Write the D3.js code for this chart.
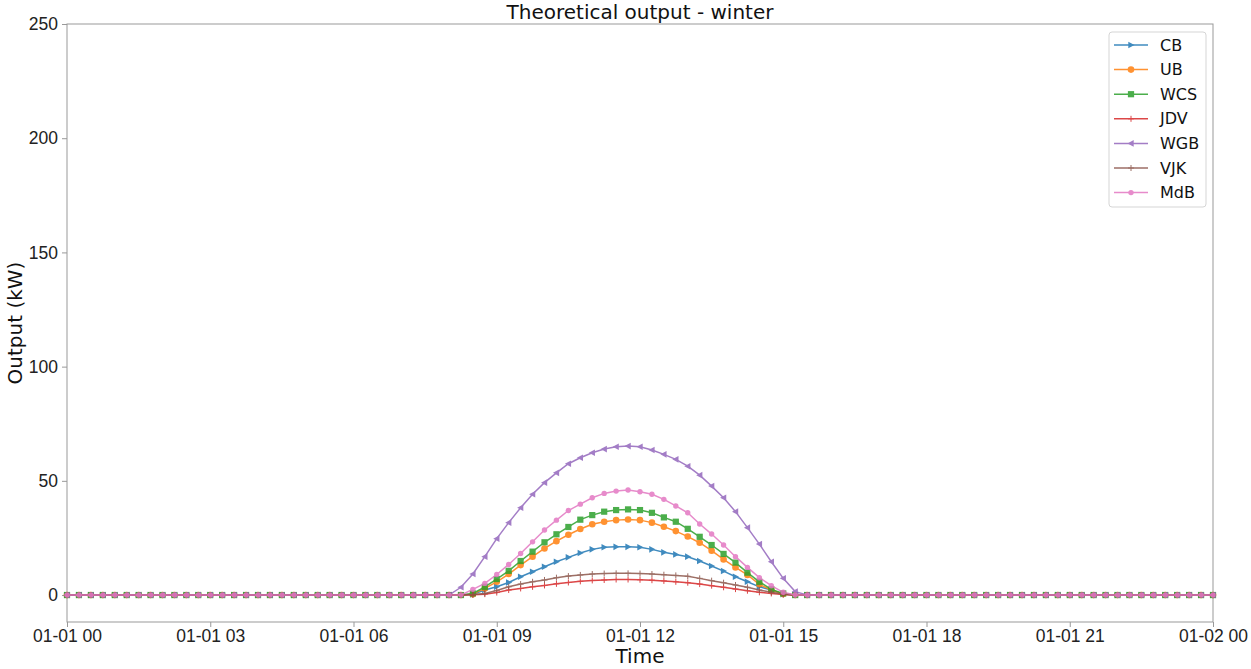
<!DOCTYPE html>
<html>
<head>
<meta charset="utf-8">
<script src="https://cdn.jsdelivr.net/npm/d3@7"></script>
<style>
  body { margin: 0; background: #fff; }
  svg { font-family: "DejaVu Sans", sans-serif; }
</style>
</head>
<body>
<div id="chart"></div>
<script>
// Data: 15-minute steps over one winter day
const seriesNames = ['CB', 'UB', 'WCS', 'JDV', 'WGB', 'VJK', 'MdB'];
const colors = ['#1f77b4', '#ff7f0e', '#2ca02c', '#d62728', '#9467bd', '#8c564b', '#e377c2'];
const markers = ['triRight', 'circle', 'square', 'plus', 'triLeft', 'plus', 'dot'];

// daylight values, from 08:15 to 15:15; outside this window all outputs are 0
const dayStartIndex = 33;
const CB  = [0, 0.3, 2.2, 3.6, 5.5, 8.0, 10.2, 12.4, 14.6, 16.5, 18.4, 20.0, 20.9, 21.1, 21.1, 20.9, 20.0, 18.7, 17.8, 16.8, 14.9, 12.7, 10.5, 8.0, 5.8, 3.6, 2.2, 0.4, 0];
const UB  = [0, 0.4, 2.9, 5.8, 9.2, 13.1, 16.8, 20.4, 23.6, 26.4, 28.9, 31.0, 32.1, 32.8, 33.1, 32.8, 31.7, 29.9, 28.0, 25.6, 22.9, 19.4, 15.6, 12.1, 8.8, 4.7, 2.2, 0.5, 0];
const WCS = [0, 0.7, 3.6, 7.0, 10.6, 14.9, 19.0, 23.1, 26.6, 29.8, 33.0, 35.0, 36.5, 37.2, 37.5, 37.2, 36.0, 34.0, 32.1, 29.0, 25.5, 21.9, 18.0, 14.2, 9.8, 5.8, 2.5, 0.7, 0];
const JDV = [0, 0.1, 0.4, 1.1, 2.2, 2.9, 3.6, 4.2, 4.9, 5.5, 6.0, 6.4, 6.6, 6.8, 6.8, 6.7, 6.5, 6.2, 5.8, 5.4, 4.8, 4.1, 3.4, 2.6, 1.9, 1.2, 0.7, 0.2, 0];
const WGB = [3.4, 9.2, 16.8, 24.7, 31.7, 38.2, 44.1, 49.2, 53.5, 57.5, 60.1, 62.3, 63.9, 64.9, 65.2, 64.9, 63.5, 61.6, 59.4, 56.4, 52.5, 47.7, 42.6, 36.5, 29.5, 22.3, 14.6, 7.3, 1.5];
const VJK = [0, 0.2, 0.7, 2.0, 3.6, 4.8, 5.8, 6.6, 7.6, 8.3, 8.8, 9.2, 9.4, 9.5, 9.5, 9.4, 9.2, 8.9, 8.6, 8.2, 7.3, 6.3, 5.4, 4.4, 3.4, 2.2, 1.2, 0.3, 0];
const MdB = [0, 2.5, 5.1, 9.0, 13.4, 18.2, 23.3, 28.5, 32.8, 37.0, 39.8, 42.6, 44.5, 45.5, 46.0, 45.2, 44.1, 41.9, 39.0, 36.0, 31.1, 26.7, 21.9, 16.8, 12.1, 7.6, 4.1, 1.2, 0];
const dayValues = [CB, UB, WCS, JDV, WGB, VJK, MdB];

const yTicks = [0, 50, 100, 150, 200, 250];
const dayBegin = new Date(2023, 0, 1, 0, 0);
const dayEnd = new Date(2023, 0, 2, 0, 0);
const times = d3.timeMinute.every(15).range(dayBegin, d3.timeMinute.offset(dayEnd, 1));

const width = 1251, height = 669;
const margin = { top: 24, right: 38, bottom: 47, left: 67 };

const series = seriesNames.map((name, k) => ({
  name, color: colors[k], marker: markers[k],
  values: times.map((t, i) => {
    const j = i - dayStartIndex;
    return { t, v: (j >= 0 && j < dayValues[k].length) ? dayValues[k][j] : 0 };
  })
}));

const svg = d3.select('#chart').append('svg')
  .attr('width', width).attr('height', height);

const x = d3.scaleTime().domain([dayBegin, dayEnd]).range([margin.left, width - margin.right]);
const y = d3.scaleLinear().domain([-11.8, 250]).range([height - margin.bottom, margin.top]);

const spine = '#999';

// axes
const xAxis = svg.append('g')
  .attr('transform', `translate(0,${height - margin.bottom})`)
  .call(d3.axisBottom(x).ticks(d3.timeHour.every(3)).tickFormat(d3.timeFormat('%m-%d %H')).tickSizeOuter(0).tickSize(5).tickPadding(3));
const yAxis = svg.append('g')
  .attr('transform', `translate(${margin.left},0)`)
  .call(d3.axisLeft(y).tickValues(yTicks).tickSizeOuter(0).tickSize(5).tickPadding(4));
[xAxis, yAxis].forEach(a => {
  a.select('.domain').remove();
  a.selectAll('line').attr('stroke', spine);
  a.selectAll('text').attr('fill', '#222').style('font-size', '17.5px');
});

// frame
svg.append('rect')
  .attr('x', margin.left).attr('y', margin.top)
  .attr('width', width - margin.left - margin.right)
  .attr('height', height - margin.top - margin.bottom)
  .attr('fill', 'none').attr('stroke', spine).attr('stroke-width', 1);

const line = d3.line().x(d => x(d.t)).y(d => y(d.v));

function drawMarker(g, type, color) {
  if (type === 'circle') g.append('circle').attr('r', 3.3).attr('fill', color);
  else if (type === 'dot') g.append('circle').attr('r', 2.7).attr('fill', color);
  else if (type === 'square') g.append('rect').attr('x', -3.1).attr('y', -3.1).attr('width', 6.2).attr('height', 6.2).attr('fill', color);
  else if (type === 'triRight') g.append('path').attr('d', 'M3.5,0L-2.7,-3.3L-2.7,3.3Z').attr('fill', color);
  else if (type === 'triLeft') g.append('path').attr('d', 'M-3.5,0L2.7,-3.3L2.7,3.3Z').attr('fill', color);
  else if (type === 'plus') g.append('path').attr('d', 'M-3,0H3M0,-3V3').attr('stroke', color).attr('stroke-width', 1);
}

const plot = svg.append('g');
series.forEach(s => {
  const g = plot.append('g').attr('opacity', 0.85);
  g.append('path').datum(s.values)
    .attr('d', line).attr('fill', 'none')
    .attr('stroke', s.color).attr('stroke-width', 1.5);
  g.selectAll('g.m').data(s.values).enter().append('g')
    .attr('class', 'm')
    .attr('transform', d => `translate(${x(d.t)},${y(d.v)})`)
    .each(function () { drawMarker(d3.select(this), s.marker, s.color); });
});

// title and axis labels
svg.append('text').attr('x', (margin.left + width - margin.right) / 2).attr('y', 19)
  .attr('text-anchor', 'middle').style('font-size', '20px').attr('fill', '#111')
  .text('Theoretical output - winter');
svg.append('text').attr('x', (margin.left + width - margin.right) / 2).attr('y', 663)
  .attr('text-anchor', 'middle').style('font-size', '20px').attr('fill', '#111')
  .text('Time');
svg.append('text')
  .attr('transform', `translate(22,${(margin.top + height - margin.bottom) / 2}) rotate(-90)`)
  .attr('text-anchor', 'middle').style('font-size', '20px').attr('fill', '#111')
  .text('Output (kW)');

// legend
const legend = svg.append('g').attr('transform', 'translate(1109,32)');
legend.append('rect').attr('width', 97).attr('height', 175).attr('rx', 3)
  .attr('fill', '#fff').attr('stroke', '#d5d5d5');
series.forEach((s, i) => {
  const row = legend.append('g').attr('transform', `translate(0,${13 + i * 24.6})`).attr('opacity', 0.85);
  row.append('line').attr('x1', 5).attr('x2', 39).attr('stroke', s.color).attr('stroke-width', 1.5);
  drawMarker(row.append('g').attr('transform', 'translate(22,0)'), s.marker, s.color);
  legend.append('text').attr('x', 51).attr('y', 13 + i * 24.6).attr('dy', '0.35em')
    .style('font-size', '16px').attr('fill', '#111').text(s.name);
});
</script>
</body>
</html>
